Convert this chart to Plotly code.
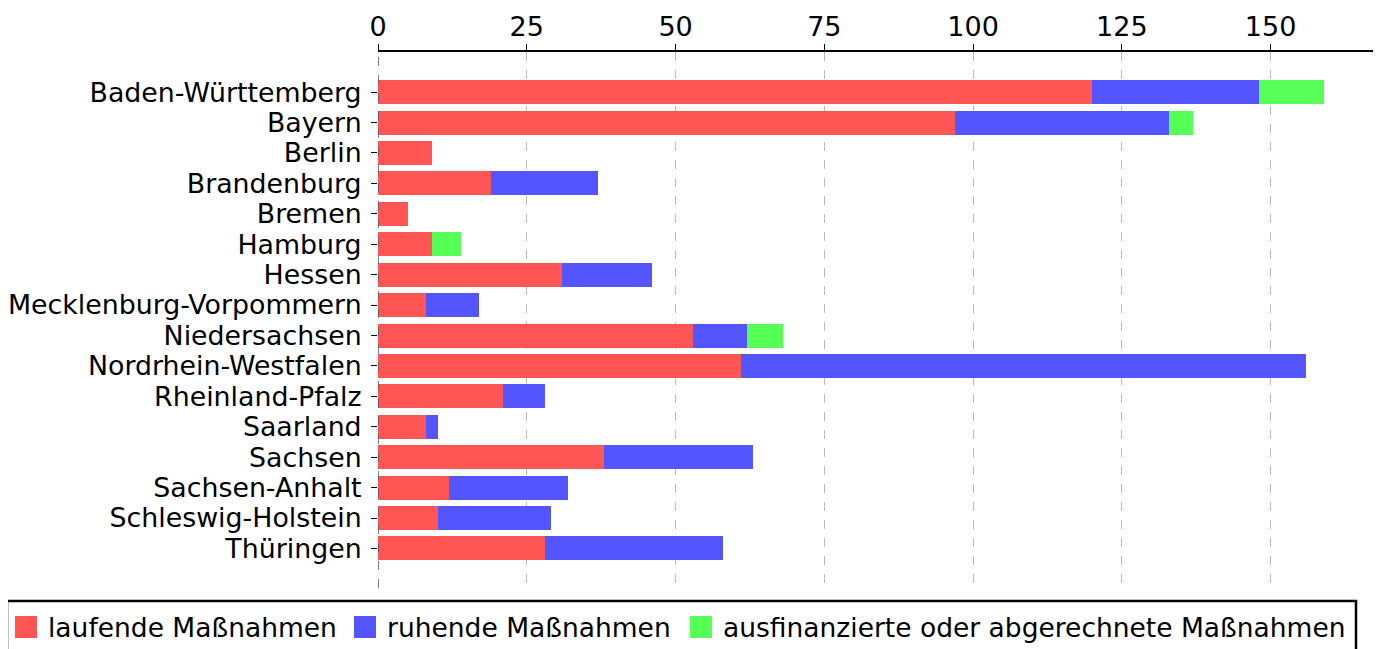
import plotly.graph_objects as go

laender = ["Baden-Württemberg", "Bayern", "Berlin", "Brandenburg", "Bremen", "Hamburg",
           "Hessen", "Mecklenburg-Vorpommern", "Niedersachsen", "Nordrhein-Westfalen",
           "Rheinland-Pfalz", "Saarland", "Sachsen", "Sachsen-Anhalt", "Schleswig-Holstein",
           "Thüringen"]
laufend = [120, 97, 9, 19, 5, 9, 31, 8, 53, 61, 21, 8, 38, 12, 10, 28]
ruhend = [28, 36, 0, 18, 0, 0, 15, 9, 9, 95, 7, 2, 25, 20, 19, 30]
ausfinanziert = [11, 4, 0, 0, 0, 5, 0, 0, 6, 0, 0, 0, 0, 0, 0, 0]
xticks = [0, 25, 50, 75, 100, 125, 150]

series = [
    ("laufende Maßnahmen", laufend, "#FF5555"),
    ("ruhende Maßnahmen", ruhend, "#5555FF"),
    ("ausfinanzierte oder abgerechnete Maßnahmen", ausfinanziert, "#55FF55"),
]

# page body has an 8px margin: figure is placed at (8, 8) in the window
OFF = 8
W, H = 1383 - OFF, 649 - OFF
L, R, T, B = 378 - OFF, 10, 52 - OFF, 61
PW, PH = W - L - R, H - T - B
font = "DejaVu Sans, sans-serif"


def px(x):  # window pixel -> paper x
    return (x - OFF - L) / PW


def py(y):  # window pixel -> paper y
    return (H - B - (y - OFF)) / PH


fig = go.Figure()
for name, vals, col in series:
    fig.add_trace(go.Bar(y=laender, x=vals, name=name, orientation="h",
                         marker=dict(color=col, line=dict(width=0)), width=0.79,
                         showlegend=False))

# custom legend (box, swatches, labels)
shapes = [dict(type="rect", xref="paper", yref="paper",
               x0=px(7), x1=px(1356), y0=py(662), y1=py(601),
               line=dict(color="black", width=2.5), fillcolor="rgba(0,0,0,0)")]
annotations = []
swatch_x = [15, 354, 690]
for (name, _, col), sx in zip(series, swatch_x):
    shapes.append(dict(type="rect", xref="paper", yref="paper",
                       x0=px(sx), x1=px(sx + 22), y0=py(638), y1=py(616),
                       line=dict(width=0), fillcolor=col))
    annotations.append(dict(xref="paper", yref="paper", x=px(sx + 31), y=py(627),
                            text=name, showarrow=False, xanchor="left", yanchor="middle",
                            font=dict(family=font, size=26.5, color="black")))
# dashed zero line
shapes.append(dict(type="line", xref="x", yref="paper", x0=0, x1=0, y0=0, y1=1,
                   line=dict(color="#555555", width=1.5, dash="dash")))

fig.update_layout(
    barmode="stack",
    width=W, height=H,
    margin=dict(l=L, r=R, t=T, b=B),
    paper_bgcolor="white", plot_bgcolor="white",
    font=dict(family=font, size=27, color="black"),
    showlegend=False,
    shapes=shapes, annotations=annotations,
)
fig.update_xaxes(side="top", range=[0, 167.2], tickvals=xticks,
                 showline=True, linecolor="black", linewidth=1.5,
                 ticks="outside", ticklen=6, tickcolor="black",
                 showgrid=True, gridcolor="#BBBBBB", griddash="dash", gridwidth=1,
                 zeroline=False, automargin=False, ticklabelstandoff=-3,
                 tickfont=dict(size=27, family=font))
fig.update_yaxes(range=[16.3, -1.32], showline=False,
                 tickmode="array", tickvals=laender, ticktext=laender,
                 ticks="outside", ticklen=6, tickcolor="black",
                 showgrid=False, automargin=False, ticklabelstandoff=4,
                 tickfont=dict(size=26.8, family=font))

fig.write_html("out.html")
